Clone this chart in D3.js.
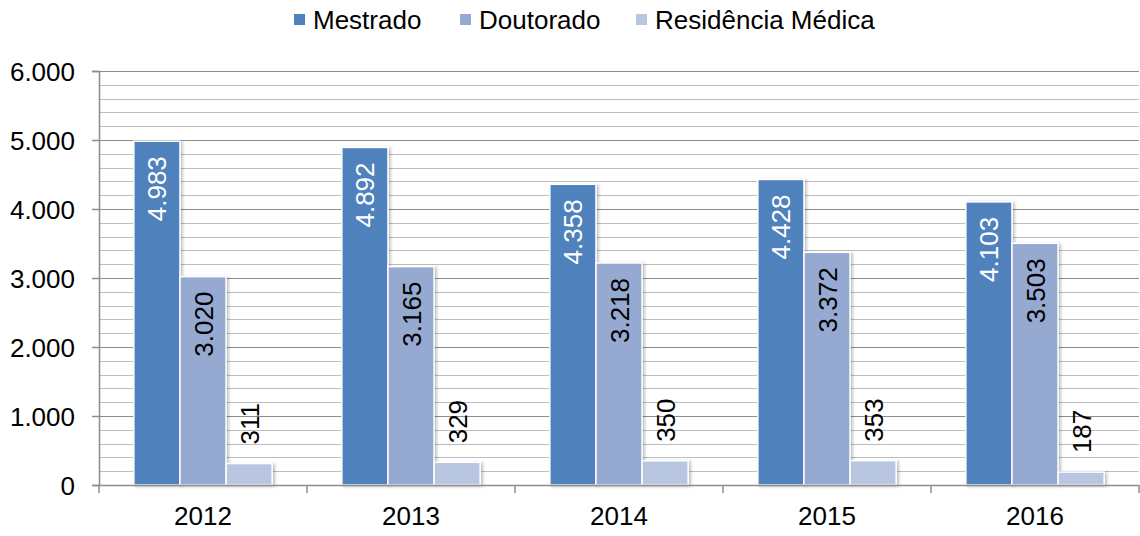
<!DOCTYPE html>
<html>
<head>
<meta charset="utf-8">
<script src="https://cdn.jsdelivr.net/npm/d3@7"></script>
<style>
  body { margin: 0; background: #fff; }
  text { font-family: "Liberation Sans", Arial, sans-serif; }
</style>
</head>
<body>
<div id="chart"></div>
<script>
var years = ["2012", "2013", "2014", "2015", "2016"];
var seriesNames = ["Mestrado", "Doutorado", "Residência Médica"];
var mestrado = [4983, 4892, 4358, 4428, 4103];
var doutorado = [3020, 3165, 3218, 3372, 3503];
var residencia = [311, 329, 350, 353, 187];
var yTicks = [0, 1000, 2000, 3000, 4000, 5000, 6000];

var colors = ["#4f81bd", "#95a9d1", "#b9c6e1"];
var labelColors = ["#fff", "#000", "#000"];

var svgWidth = 1140;
var svgHeight = 536;
var margin = { top: 71, right: 1, bottom: 51, left: 99 };
var width = svgWidth - margin.left - margin.right;
var height = svgHeight - margin.top - margin.bottom;
var fontSize = 26;

var fmt = function(v) { return d3.format(",")(v).replace(/,/g, "."); };

var svg = d3.select("#chart").append("svg")
  .attr("width", svgWidth)
  .attr("height", svgHeight);

var defs = svg.append("defs");
var filter = defs.append("filter").attr("id", "shadow")
  .attr("x", "-20%").attr("y", "-20%").attr("width", "140%").attr("height", "140%");
filter.append("feDropShadow")
  .attr("dx", 2).attr("dy", 1).attr("stdDeviation", 1.5)
  .attr("flood-color", "#000").attr("flood-opacity", 0.25);

var chart = svg.append("g")
  .attr("transform", "translate(" + margin.left + "," + margin.top + ")");

var x0 = d3.scaleBand().domain(years).range([0, width]).paddingInner(0.335).paddingOuter(0.1675);
var x1 = d3.scaleBand().domain(seriesNames).range([0, x0.bandwidth()]);
var y = d3.scaleLinear().domain([0, 6000]).range([height, 0]);

// minor gridlines every 200
var minor = d3.range(0, 6001, 200).filter(function(v) { return v % 1000 !== 0; });
chart.append("g").selectAll("line")
  .data(minor).enter().append("line")
  .attr("x1", 0).attr("x2", width)
  .attr("y1", function(d) { return Math.round(y(d)) + 0.5; })
  .attr("y2", function(d) { return Math.round(y(d)) + 0.5; })
  .attr("stroke", "#bdbdbd").attr("stroke-width", 1.2);

// major gridlines
chart.append("g").selectAll("line")
  .data(yTicks).enter().append("line")
  .attr("x1", 0).attr("x2", width)
  .attr("y1", function(d) { return Math.round(y(d)) + 0.5; })
  .attr("y2", function(d) { return Math.round(y(d)) + 0.5; })
  .attr("stroke", "#8c8c8c").attr("stroke-width", 1.2);

// y axis
var leftAxis = d3.axisLeft(y).tickValues(yTicks).tickFormat(fmt).tickSize(7).tickPadding(17);
var yAxisG = chart.append("g").call(leftAxis);
yAxisG.select(".domain").attr("stroke", "#8c8c8c").attr("stroke-width", 1.5);
yAxisG.selectAll(".tick line").attr("stroke", "#8c8c8c").attr("stroke-width", 1.5);
yAxisG.selectAll("text").attr("font-size", fontSize).attr("fill", "#000").attr("dy", "0.36em")
  .style("font-family", "'Liberation Sans', Arial, sans-serif");

// bars
var rows = years.map(function(yr, i) {
  return { year: yr, values: [mestrado[i], doutorado[i], residencia[i]] };
});

var groups = chart.selectAll(".grp")
  .data(rows).enter().append("g")
  .attr("class", "grp")
  .attr("transform", function(d) { return "translate(" + x0(d.year) + ",0)"; });

groups.selectAll("rect")
  .data(function(d) { return d.values.map(function(v, j) { return { s: j, v: v }; }); })
  .enter().append("rect")
  .attr("x", function(d) { return x1(seriesNames[d.s]); })
  .attr("y", function(d) { return y(d.v); })
  .attr("width", x1.bandwidth())
  .attr("height", function(d) { return height - y(d.v); })
  .attr("fill", function(d) { return colors[d.s]; })
  .attr("stroke", "#fff").attr("stroke-width", 1.5)
  .attr("filter", "url(#shadow)");

groups.selectAll(".lbl")
  .data(function(d) { return d.values.map(function(v, j) { return { s: j, v: v }; }); })
  .enter().append("text")
  .attr("class", "lbl")
  .attr("transform", function(d) {
    var cx = x1(seriesNames[d.s]) + x1.bandwidth() / 2 + 9.5;
    var ty = d.s === 2 ? y(d.v) - 19 : y(d.v) + 15;
    return "translate(" + cx + "," + ty + ") rotate(-90)";
  })
  .attr("text-anchor", function(d) { return d.s === 2 ? "start" : "end"; })
  .attr("font-size", fontSize)
  .attr("fill", function(d) { return labelColors[d.s]; })
  .text(function(d) { return fmt(d.v); });

// x axis
chart.append("line")
  .attr("x1", 0).attr("x2", width)
  .attr("y1", height + 0.5).attr("y2", height + 0.5)
  .attr("stroke", "#8c8c8c").attr("stroke-width", 1.5);

var bounds = d3.range(0, years.length + 1);
chart.append("g").selectAll("line")
  .data(bounds).enter().append("line")
  .attr("x1", function(d) { return d * width / years.length; })
  .attr("x2", function(d) { return d * width / years.length; })
  .attr("y1", height).attr("y2", height + 8)
  .attr("stroke", "#8c8c8c").attr("stroke-width", 1.5);

chart.append("g").selectAll("text")
  .data(years).enter().append("text")
  .attr("x", function(d) { return x0(d) + x0.bandwidth() / 2; })
  .attr("y", height + 40)
  .attr("text-anchor", "middle")
  .attr("font-size", fontSize)
  .attr("fill", "#000")
  .text(function(d) { return d; });

// legend
var legendX = [294, 460, 636];
var legend = svg.append("g").selectAll("g")
  .data(seriesNames).enter().append("g")
  .attr("transform", function(d, i) { return "translate(" + legendX[i] + ",14)"; });
legend.append("rect")
  .attr("width", 11).attr("height", 11)
  .attr("fill", function(d, i) { return colors[i]; });
legend.append("text")
  .attr("x", 19).attr("y", 15)
  .attr("font-size", fontSize)
  .attr("fill", "#000")
  .text(function(d) { return d; });
</script>
</body>
</html>
